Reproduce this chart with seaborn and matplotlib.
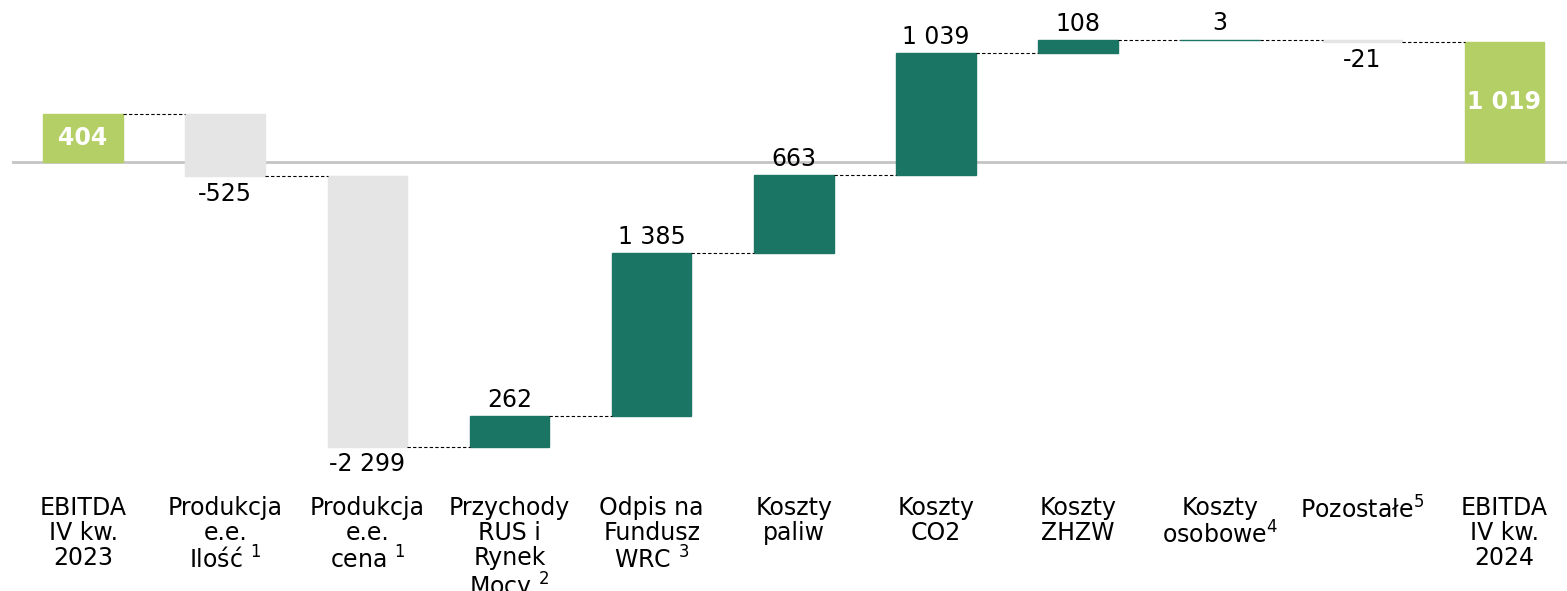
import numpy as np
import pandas as pd
import seaborn as sns
import matplotlib.pyplot as plt

# data (mln zł)
categories = [
    "EBITDA\nIV kw.\n2023",
    "Produkcja\ne.e.\nIlość $^{1}$",
    "Produkcja\ne.e.\ncena $^{1}$",
    "Przychody\nRUS i\nRynek\nMocy $^{2}$",
    "Odpis na\nFundusz\nWRC $^{3}$",
    "Koszty\npaliw",
    "Koszty\nCO2",
    "Koszty\nZHZW",
    "Koszty\nosobowe$^{4}$",
    "Pozostałe$^{5}$",
    "EBITDA\nIV kw.\n2024",
]
start_value = 404
changes = [-525, -2299, 262, 1385, 663, 1039, 108, 3, -21]
end_value = 1019

GREEN = "#b3cf66"
TEAL = "#1b7565"
GREY = "#e5e5e5"

sns.set_theme(style="white")
plt.rcParams["font.family"] = ["DejaVu Sans"]
plt.rcParams["mathtext.fontset"] = "dejavusans"


def fmt(v):
    s = f"{abs(v):,}".replace(",", " ")
    return "-" + s if v < 0 else s


# build floating bars: bottom + height
levels = np.cumsum([start_value] + changes)
bottoms = [0]
heights = [start_value]
for i, c in enumerate(changes):
    prev = levels[i]
    bottoms.append(prev if c >= 0 else prev + c)
    heights.append(abs(c))
bottoms.append(0)
heights.append(end_value)

colors = [GREEN] + [TEAL if c >= 0 else GREY for c in changes] + [GREEN]

df = pd.DataFrame({"cat": categories, "height": heights})

fig = plt.figure(figsize=(15.67, 5.91), dpi=100)
ax = fig.add_axes([12 / 1567, 1 - 460 / 591, 1 - 12 / 1567, 430 / 591])

sns.barplot(data=df, x="cat", y="height", bottom=bottoms, width=0.56,
            errorbar=None, color=TEAL, linewidth=1, ax=ax, zorder=2)
for p, c in zip(ax.patches, colors):
    p.set_facecolor(c)
    p.set_edgecolor(c)

ax.set_xlim(-0.5, 10.44)
ax.set_ylim(-2534, 1122)
ax.axhline(0, color="#c4c4c4", lw=2, zorder=1)

# dashed connectors between bars
half = 0.28
for i in range(len(categories) - 1):
    y = levels[i] if i < len(levels) else end_value
    ax.plot([i + half, i + 1 - half], [y, y], ls=(0, (3, 2)), color="black",
            lw=0.8, zorder=3)

# value labels
ctext = dict(fontsize=17, color="black", ha="center")
for i, c in enumerate(changes, start=1):
    b, h = bottoms[i], heights[i]
    if c >= 0:
        ax.annotate(fmt(c), (i, b + h), xytext=(0, 3), textcoords="offset points",
                    va="bottom", **ctext)
    else:
        ax.annotate(fmt(c), (i, b), xytext=(0, -4), textcoords="offset points",
                    va="top", **ctext)
for i, v in [(0, start_value), (len(categories) - 1, end_value)]:
    ax.text(i, v / 2, fmt(v), ha="center", va="center", fontsize=17,
            fontweight="bold", color="white", zorder=4)

ax.set_xticks(range(len(categories)))
ax.set_xticklabels(categories, fontsize=17, linespacing=1.05, va="top",
                   color="black")
ax.tick_params(axis="x", length=0, pad=26)
ax.set_yticks([])
ax.set_xlabel("")
ax.set_ylabel("")
for s in ax.spines.values():
    s.set_visible(False)

fig.savefig("out.png", dpi=100)
